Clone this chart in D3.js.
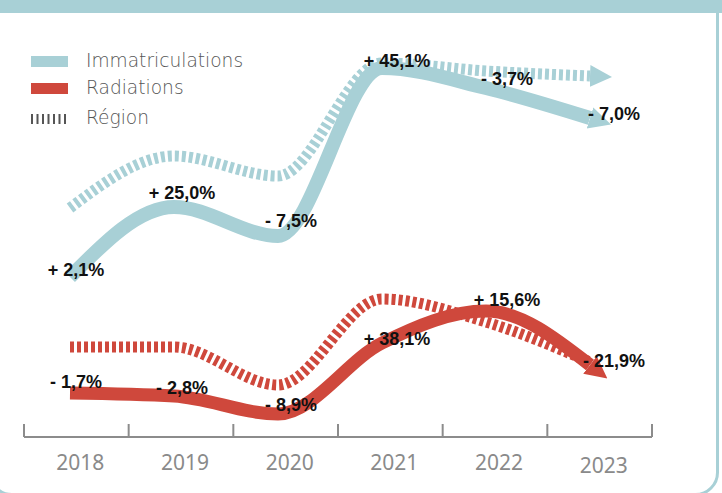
<!DOCTYPE html>
<html>
<head>
<meta charset="utf-8">
<script src="https://cdn.jsdelivr.net/npm/d3@7"></script>
<style>
  body { margin: 0; background: #fff; }
  svg { display: block; }
</style>
</head>
<body>
<div id="chart"></div>
<script>
// data (index values, no y axis in the original)
const years = ["2018", "2019", "2020", "2021", "2022", "2023"];
const immat = [40, 57.5, 50.25, 92.25, 87.25, 79.75];
const immatRegion = [57.25, 70.25, 65.25, 93.5, 91.5, 90.25];
const radiations = [11, 10.25, 5.75, 23.5, 31.5, 18];
const radiationsRegion = [22.5, 22.5, 13, 34.5, 28.75, 18.75];
const immatLabels = ["+ 2,1%", "+ 25,0%", "- 7,5%", "+ 45,1%", "- 3,7%", "- 7,0%"];
const radLabels = ["- 1,7%", "- 2,8%", "- 8,9%", "+ 38,1%", "+ 15,6%", "- 21,9%"];
const legendItems = ["Immatriculations", "Radiations", "Région"];

const teal = "#a8d0d6";
const red = "#cf483c";

const W = 722, H = 493;

const svg = d3.select("#chart").append("svg")
    .attr("width", W)
    .attr("height", H);

// frame
svg.append("rect")
    .attr("x", -10).attr("y", -10)
    .attr("width", 727.5).attr("height", 504.5)
    .attr("rx", 22)
    .attr("fill", "none")
    .attr("stroke", teal)
    .attr("stroke-width", 3);
svg.append("rect")
    .attr("x", 0).attr("y", 0)
    .attr("width", W).attr("height", 13)
    .attr("fill", teal);

// scales
let xBand = d3.scaleBand().domain(years).range([24, 652]).padding(0);
let xLine = d3.scalePoint().domain(years).range([70, 590]);
let y = d3.scaleLinear().domain([0, 100]).range([437, 37]);

// arrow heads
let defs = svg.append("defs");
function arrow(id, color, w, h) {
    defs.append("marker")
        .attr("id", id)
        .attr("viewBox", "0 0 10 10")
        .attr("refX", 0).attr("refY", 5)
        .attr("markerUnits", "userSpaceOnUse")
        .attr("markerWidth", w).attr("markerHeight", h)
        .attr("orient", "auto")
        .append("path")
        .attr("d", "M0,0 L10,5 L0,10 Z")
        .attr("fill", color);
}
arrow("arrTeal", teal, 22, 28);
arrow("arrTealReg", teal, 22, 24);
arrow("arrRed", red, 22, 28);

let line = d3.line()
    .x((d, i) => xLine(years[i]))
    .y(d => y(d))
    .curve(d3.curveMonotoneX);

// region (dotted) lines first
svg.append("path")
    .datum(immatRegion)
    .attr("d", line)
    .attr("fill", "none")
    .attr("stroke", teal)
    .attr("stroke-width", 11)
    .attr("stroke-dasharray", "4,3")
    .attr("marker-end", "url(#arrTealReg)");

svg.append("path")
    .datum(radiationsRegion)
    .attr("d", line)
    .attr("fill", "none")
    .attr("stroke", red)
    .attr("stroke-width", 11)
    .attr("stroke-dasharray", "4,3");

// main lines
svg.append("path")
    .datum(immat)
    .attr("d", line)
    .attr("fill", "none")
    .attr("stroke", teal)
    .attr("stroke-width", 14)
    .attr("marker-end", "url(#arrTeal)");

svg.append("path")
    .datum(radiations)
    .attr("d", line)
    .attr("fill", "none")
    .attr("stroke", red)
    .attr("stroke-width", 13)
    .attr("marker-end", "url(#arrRed)");

// axis
let axis = svg.append("g").attr("transform", "translate(0,437)");
axis.append("line")
    .attr("x1", 24).attr("x2", 652)
    .attr("stroke", "#8c8c8c").attr("stroke-width", 2);
let tickPos = years.map(d => xBand(d)).concat([xBand.range()[1]]);
axis.selectAll(".tick-mark")
    .data(tickPos)
    .enter().append("line")
    .attr("class", "tick-mark")
    .attr("x1", d => d).attr("x2", d => d)
    .attr("y1", 0).attr("y2", -13)
    .attr("stroke", "#8c8c8c").attr("stroke-width", 2);
axis.selectAll(".year")
    .data(years)
    .enter().append("text")
    .attr("class", "year")
    .attr("x", d => xBand(d) + xBand.bandwidth() / 2 + 4)
    .attr("y", (d, i) => i == 5 ? 36 : 33)
    .attr("text-anchor", "middle")
    .style("font-family", "'Noto Sans', sans-serif")
    .style("font-size", "21px")
    .style("fill", "#8a8a8a")
    .text(d => d);

// value labels
const labelDx = [6, 8, 13, 15, 21, 24];
const immatDy = [-1, -8, -9, -1, -3, 2];
const radDy = [-5, -2, -3, 2, -5, 2];

function labels(values, texts, dy) {
    svg.append("g").selectAll("text")
        .data(values)
        .enter().append("text")
        .attr("x", (d, i) => xLine(years[i]) + labelDx[i])
        .attr("y", (d, i) => y(d) + dy[i])
        .attr("text-anchor", "middle")
        .style("font-family", "'Liberation Sans', Arial, sans-serif")
        .style("font-weight", "bold")
        .style("font-size", "18px")
        .style("fill", "#111")
        .text((d, i) => texts[i]);
}
labels(immat, immatLabels, immatDy);
labels(radiations, radLabels, radDy);

// legend
let legend = svg.append("g").attr("transform", "translate(31,0)");
legend.append("rect")
    .attr("x", 0).attr("y", 56).attr("width", 37).attr("height", 11)
    .attr("fill", teal);
legend.append("rect")
    .attr("x", 0).attr("y", 83).attr("width", 37).attr("height", 11)
    .attr("fill", red);
legend.append("line")
    .attr("x1", 0).attr("x2", 37)
    .attr("y1", 119).attr("y2", 119)
    .attr("stroke", "#555").attr("stroke-width", 10)
    .attr("stroke-dasharray", "2,3.5");
legend.selectAll(".leg-text")
    .data(legendItems)
    .enter().append("text")
    .attr("class", "leg-text")
    .attr("x", 55)
    .attr("y", (d, i) => [67, 94, 124][i])
    .style("font-family", "'DejaVu Sans', sans-serif")
    .style("font-weight", 200)
    .style("font-size", "18.6px")
    .style("fill", "#555")
    .text(d => d);
</script>
</body>
</html>
